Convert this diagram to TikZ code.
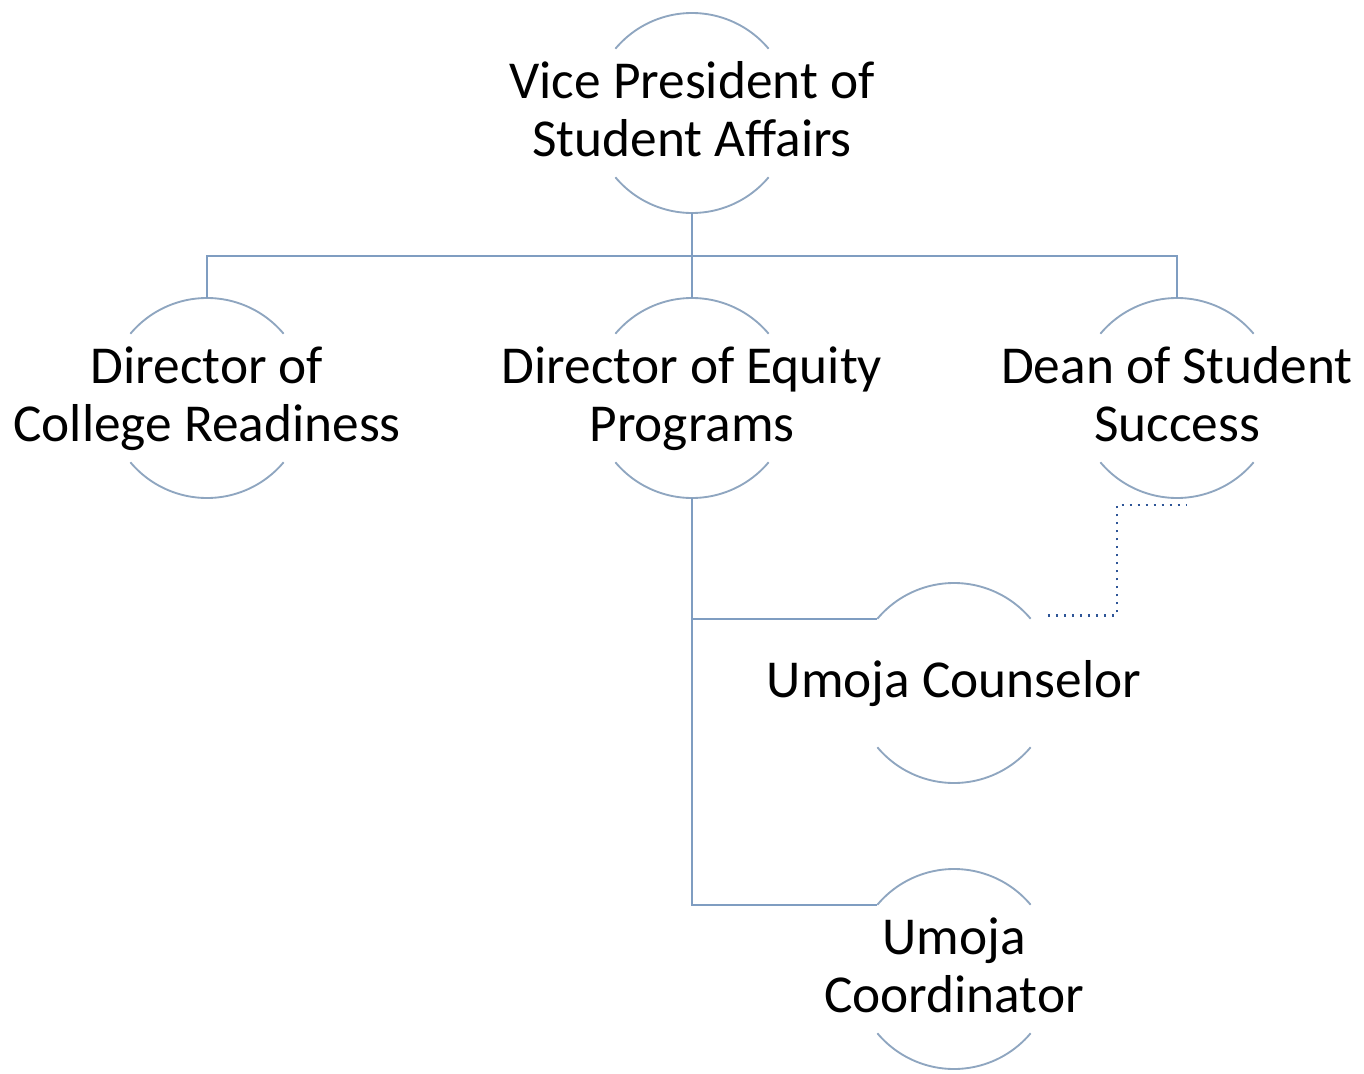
\documentclass[tikz,border=0pt]{standalone}
\usepackage{fontspec}
\setmainfont{Carlito}
\usetikzlibrary{calc}
\definecolor{linec}{HTML}{7F9DC1}
\definecolor{arcc}{HTML}{8FA6C0}
\definecolor{dotc}{HTML}{2E5597}
\tikzset{
  px/.style={x=0.75pt,y=0.75pt},
  orgnode/.style={circle,minimum size=150pt,inner sep=0pt,outer sep=0pt},
  orgtext/.style={align=center,font=\fontsize{40}{43.5}\selectfont,inner sep=0pt,yshift=-2.5pt},
  conn/.style={draw=linec,line width=1.4pt},
  arcline/.style={draw=arcc,line width=1.4pt},
  dotline/.style={draw=dotc,line width=1.8pt,dash pattern=on 1.8pt off 4.2pt},
}
\newcommand{\orgarcs}[1]{%
  \draw[arcline] (#1.40) arc[start angle=40,end angle=140,radius=75pt];
  \draw[arcline] (#1.220) arc[start angle=220,end angle=320,radius=75pt];}
\begin{document}
\begin{tikzpicture}[px]
\useasboundingbox (0,0) rectangle (1364,-1074);
\node[orgnode,label={[orgtext]center:\strut Vice President of\\\strut Student Affairs}] (vp) at (692,-113) {};
\node[orgnode,label={[orgtext]center:\strut Director of\\\strut College Readiness}] (dcr) at (207,-398) {};
\node[orgnode,label={[orgtext]center:\strut Director of Equity\\\strut Programs}] (dep) at (692,-398) {};
\node[orgnode,label={[orgtext]center:\strut Dean of Student\\\strut Success}] (dss) at (1177,-398) {};
\node[orgnode,label={[orgtext]center:\strut Umoja Counselor}] (uc) at (954,-683) {};
\node[orgnode,label={[orgtext]center:\strut Umoja\\\strut Coordinator}] (uco) at (954,-969) {};
\foreach \n in {vp,dcr,dep,dss,uc,uco}{\orgarcs{\n}}
\coordinate (bus) at ([yshift=-32.25pt]vp.south);
\draw[conn] (vp.south) -- (dep.north);
\draw[conn] (dcr.north) |- (bus) -| (dss.north);
\draw[conn] (dep.south) |- (uc.140);
\draw[conn] (dep.south) |- (uco.140);
\coordinate (us) at ([shift={(13pt,2.5pt)}]uc.40);
\coordinate (ds) at ([shift={(7.5pt,-5.25pt)}]dss.south);
\draw[dotline] (us) -| ([xshift=-52.5pt]ds) -- (ds);
\end{tikzpicture}
\end{document}
